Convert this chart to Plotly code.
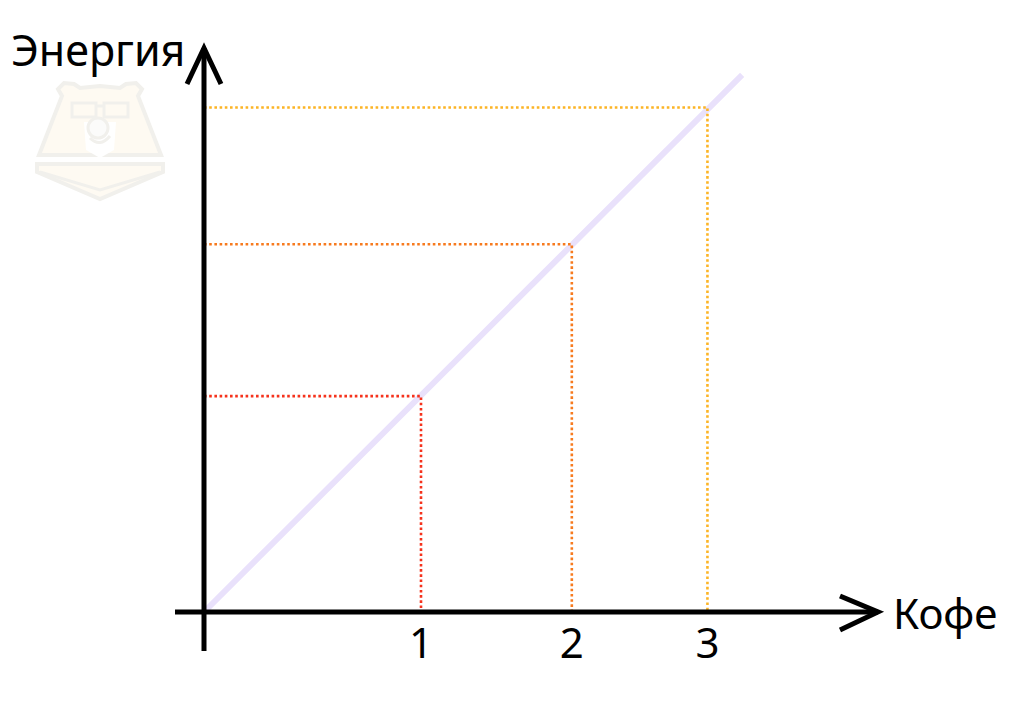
import plotly.graph_objects as go

# ---- data (units: 1 = one "cup" step on the drawn scale) ----
coffee_pos = [1.00, 1.695, 2.32]      # x positions of the marked points
energy_val = [0.995, 1.695, 2.325]    # y values of the marked points
tick_labels = ["1", "2", "3"]
line_x = [0.0, 2.48]
line_y = [0.0, 2.475]
guide_colors = ["#f5321c", "#f77a1e", "#fcb425"]

W, H = 1024, 717
PX = 217.0  # pixels per unit
ox, oy = 204, 612  # origin pixel
x_range = [-ox / PX, (W - ox) / PX]
y_range = [-(H - oy) / PX, oy / PX]


def px_x(p):
    return (p - ox) / PX


def px_y(p):
    return (oy - p) / PX


fig = go.Figure()

# diagonal line
fig.add_trace(go.Scatter(x=line_x, y=line_y, mode="lines",
                         line=dict(color="#e9e1fb", width=6),
                         hoverinfo="skip", showlegend=False))

# dotted guides
for xv, yv, c in zip(coffee_pos, energy_val, guide_colors):
    fig.add_trace(go.Scatter(x=[0, xv, xv], y=[yv, yv, 0], mode="lines",
                             line=dict(color=c, width=2.6, dash="2.6px,2.6px"),
                             hoverinfo="skip", showlegend=False))

shapes = []
axis_line = dict(color="black", width=5)
# horizontal axis
shapes.append(dict(type="line", xref="x", yref="y", x0=px_x(175), y0=0, x1=px_x(878), y1=0, line=axis_line))
shapes.append(dict(type="path", xref="x", yref="y",
                   path=f"M {px_x(840)},{px_y(596)} L {px_x(878)},{0} L {px_x(840)},{px_y(630)}",
                   line=axis_line))
# vertical axis
shapes.append(dict(type="line", xref="x", yref="y", x0=0, y0=px_y(651), x1=0, y1=px_y(48), line=axis_line))
shapes.append(dict(type="path", xref="x", yref="y",
                   path=f"M {px_x(187)},{px_y(84)} L {0},{px_y(48)} L {px_x(221)},{px_y(84)}",
                   line=axis_line))

# faint watermark (bear logo), drawn in page pixels
fill_c = "#fefaf2"
edge_c = "#f1f0ec"


def P(x, y):
    return f"{x / W:.5f},{1 - y / H:.5f}"


def poly(pts):
    return "M " + " L ".join(P(x, y) for x, y in pts) + " Z"


head = poly([(62, 96), (58, 89), (64, 83), (74, 84), (80, 88), (100, 86), (120, 88), (126, 84),
             (136, 83), (142, 89), (138, 96), (161, 155), (39, 155)])
book = poly([(37, 164), (163, 164), (163, 172), (100, 199), (37, 172)])
book_inner = "M " + P(40, 172) + " L " + P(100, 190) + " L " + P(160, 172)
glass_l = poly([(72, 103), (96, 103), (96, 117), (72, 117)])
glass_r = poly([(104, 103), (128, 103), (128, 117), (104, 117)])
bridge = "M " + P(96, 106) + " L " + P(104, 106)
muzzle = poly([(84, 122), (116, 122), (114, 150), (100, 158), (86, 150)])
smile = "M " + P(90, 138) + " Q " + P(100, 148) + " " + P(110, 136)

for pth, fc, lw in [(head, fill_c, 4), (book, fill_c, 4)]:
    shapes.append(dict(type="path", xref="paper", yref="paper", path=pth, fillcolor=fc,
                       line=dict(color=edge_c, width=lw), layer="below"))
shapes.append(dict(type="path", xref="paper", yref="paper", path=muzzle, fillcolor="#ffffff",
                   line=dict(width=0), layer="below"))
for pth in [glass_l, glass_r, bridge, book_inner, smile]:
    shapes.append(dict(type="path", xref="paper", yref="paper", path=pth,
                       line=dict(color=edge_c, width=3), layer="below"))
shapes.append(dict(type="circle", xref="paper", yref="paper",
                   x0=88 / W, x1=108 / W, y0=1 - 138 / H, y1=1 - 118 / H,
                   fillcolor="#fbfbfa", line=dict(color=edge_c, width=3), layer="below"))

fig.update_layout(
    width=W, height=H,
    margin=dict(l=0, r=0, t=0, b=0),
    paper_bgcolor="white", plot_bgcolor="white",
    shapes=shapes,
    showlegend=False,
    font=dict(family="Noto Sans", color="black"),
    xaxis=dict(range=x_range, showgrid=False, zeroline=False, showline=False,
               tickvals=coffee_pos, ticktext=tick_labels, ticks="",
               tickfont=dict(size=42, family="Noto Sans", color="black"),
               anchor="free", position=(H - oy) / H, ticklabelstandoff=3,
               fixedrange=True),
    yaxis=dict(range=y_range, showgrid=False, zeroline=False, showline=False,
               showticklabels=False, fixedrange=True),
    annotations=[
        dict(text="Энергия", xref="paper", yref="paper", x=9 / W, y=1 - 50 / H,
             xanchor="left", yanchor="middle", showarrow=False,
             font=dict(size=43, family="Noto Sans", color="black")),
        dict(text="Кофе", xref="paper", yref="paper", x=891 / W, y=1 - 612 / H,
             xanchor="left", yanchor="middle", showarrow=False,
             font=dict(size=42, family="Noto Sans", color="black")),
    ],
)

fig.write_html("out.html", config={"displayModeBar": False},
               post_script="document.body.style.margin='0';")
